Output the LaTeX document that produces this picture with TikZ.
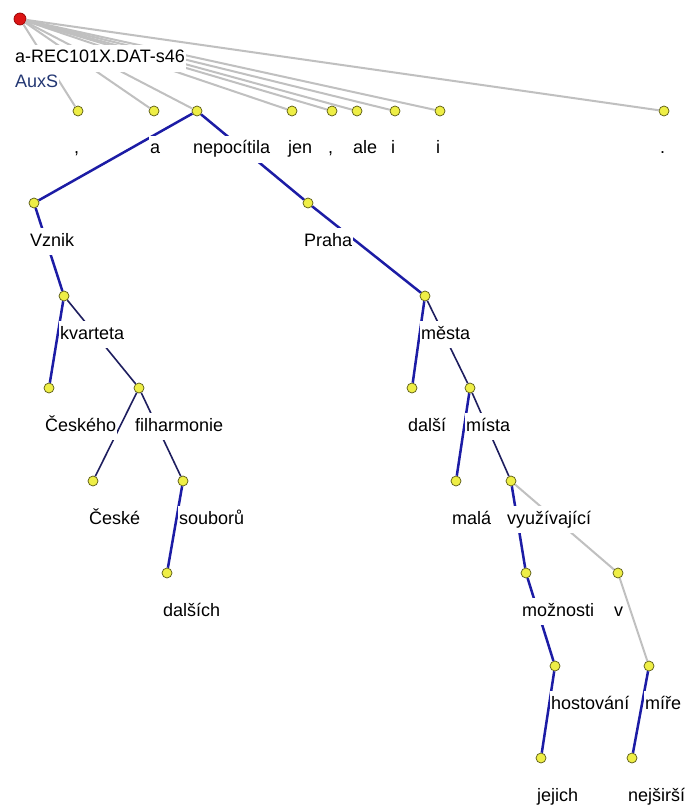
\documentclass[tikz,border=0pt]{standalone}
\usepackage{fontspec}
\setmainfont{Liberation Sans}
\definecolor{nodefill}{RGB}{238,238,70}
\definecolor{nodeline}{RGB}{90,90,20}
\definecolor{rootfill}{RGB}{220,20,20}
\definecolor{rootline}{RGB}{150,0,0}
\definecolor{auxedge}{RGB}{192,192,192}
\definecolor{depedge}{RGB}{28,28,165}
\definecolor{coordedge}{RGB}{30,30,95}
\definecolor{functor}{RGB}{35,55,115}
\newcommand\treelabel[3][black]{\node[lbl,text=#1] (L#2) at ([shift={(-5,43)}]#2.center) {#3};}
\begin{document}
\begin{tikzpicture}[x=1pt,y=-1pt,
  tnode/.style={circle,draw=nodeline,line width=0.7pt,fill=nodefill,inner sep=0pt,minimum size=10pt},
  rootnode/.style={circle,draw=rootline,line width=0.7pt,fill=rootfill,inner sep=0pt,minimum size=12pt},
  lbl/.style={anchor=base west,fill=white,inner xsep=1pt,inner ysep=4pt,text height=14pt,text depth=5pt,font=\fontsize{18}{20}\selectfont},
  aux/.style={draw=auxedge,line width=2pt},
  dep/.style={draw=depedge,line width=2.5pt},
  crd/.style={draw=coordedge,line width=1.6pt}]
\useasboundingbox[fill=white] (0,0) rectangle (688,805);

% tree nodes
\node[rootnode] (root) at (20,19) {};
\foreach \n/\x in {c1/78,a/154,nepo/197,jen/292,c2/332,ale/357,i1/395,i2/440,dot/664}
  \node[tnode] (\n) at (\x,111) {};
\node[tnode] (vznik) at (34,203) {};
\node[tnode] (praha) at (308,203) {};
\node[tnode] (kvarteta) at (64,296) {};
\node[tnode] (mesta) at (425,296) {};
\node[tnode] (ceskeho) at (49,388) {};
\node[tnode] (filh) at (139,388) {};
\node[tnode] (dalsi) at (412,388) {};
\node[tnode] (mista) at (470,388) {};
\node[tnode] (ceske) at (93,481) {};
\node[tnode] (soub) at (183,481) {};
\node[tnode] (mala) at (456,481) {};
\node[tnode] (vyuz) at (511,481) {};
\node[tnode] (dalsich) at (167,573) {};
\node[tnode] (moz) at (526,573) {};
\node[tnode] (v) at (618,573) {};
\node[tnode] (host) at (555,666) {};
\node[tnode] (mire) at (649,666) {};
\node[tnode] (jejich) at (541,758) {};
\node[tnode] (nejs) at (632,758) {};

% edges
\foreach \n in {c1,a,nepo,jen,c2,ale,i1,i2,dot}
  \draw[aux] (root) -- (\n);
\draw[aux] (vyuz) -- (v);
\draw[aux] (v) -- (mire);
\draw[dep] (nepo) -- (vznik);
\draw[dep] (nepo) -- (praha);
\draw[dep] (vznik) -- (kvarteta);
\draw[dep] (kvarteta) -- (ceskeho);
\draw[dep] (soub) -- (dalsich);
\draw[dep] (praha) -- (mesta);
\draw[dep] (mesta) -- (dalsi);
\draw[dep] (mista) -- (mala);
\draw[dep] (vyuz) -- (moz);
\draw[dep] (moz) -- (host);
\draw[dep] (host) -- (jejich);
\draw[dep] (mire) -- (nejs);
\draw[crd] (kvarteta) -- (filh);
\draw[crd] (filh) -- (ceske);
\draw[crd] (filh) -- (soub);
\draw[crd] (mesta) -- (mista);
\draw[crd] (mista) -- (vyuz);

% labels
\node[lbl] (Lroot) at ([shift={(-6,44)}]root.center) {a-REC101X.DAT-s46};
\node[lbl,text=functor] (Lfunc) at ([shift={(-6,69)}]root.center) {AuxS};
\treelabel{c1}{,}
\treelabel{a}{a}
\treelabel{nepo}{nepocítila}
\treelabel{jen}{jen}
\treelabel{c2}{,}
\treelabel{ale}{ale}
\treelabel{i1}{i}
\treelabel{i2}{i}
\treelabel{dot}{.}
\treelabel{vznik}{Vznik}
\treelabel{praha}{Praha}
\treelabel{kvarteta}{kvarteta}
\treelabel{mesta}{města}
\treelabel{ceskeho}{Českého}
\treelabel{filh}{filharmonie}
\treelabel{dalsi}{další}
\treelabel{mista}{místa}
\treelabel{ceske}{České}
\treelabel{soub}{souborů}
\treelabel{mala}{malá}
\treelabel{vyuz}{využívající}
\treelabel{dalsich}{dalších}
\treelabel{moz}{možnosti}
\treelabel{v}{v}
\treelabel{host}{hostování}
\treelabel{mire}{míře}
\treelabel{jejich}{jejich}
\treelabel{nejs}{nejširší}
\end{tikzpicture}
\end{document}
